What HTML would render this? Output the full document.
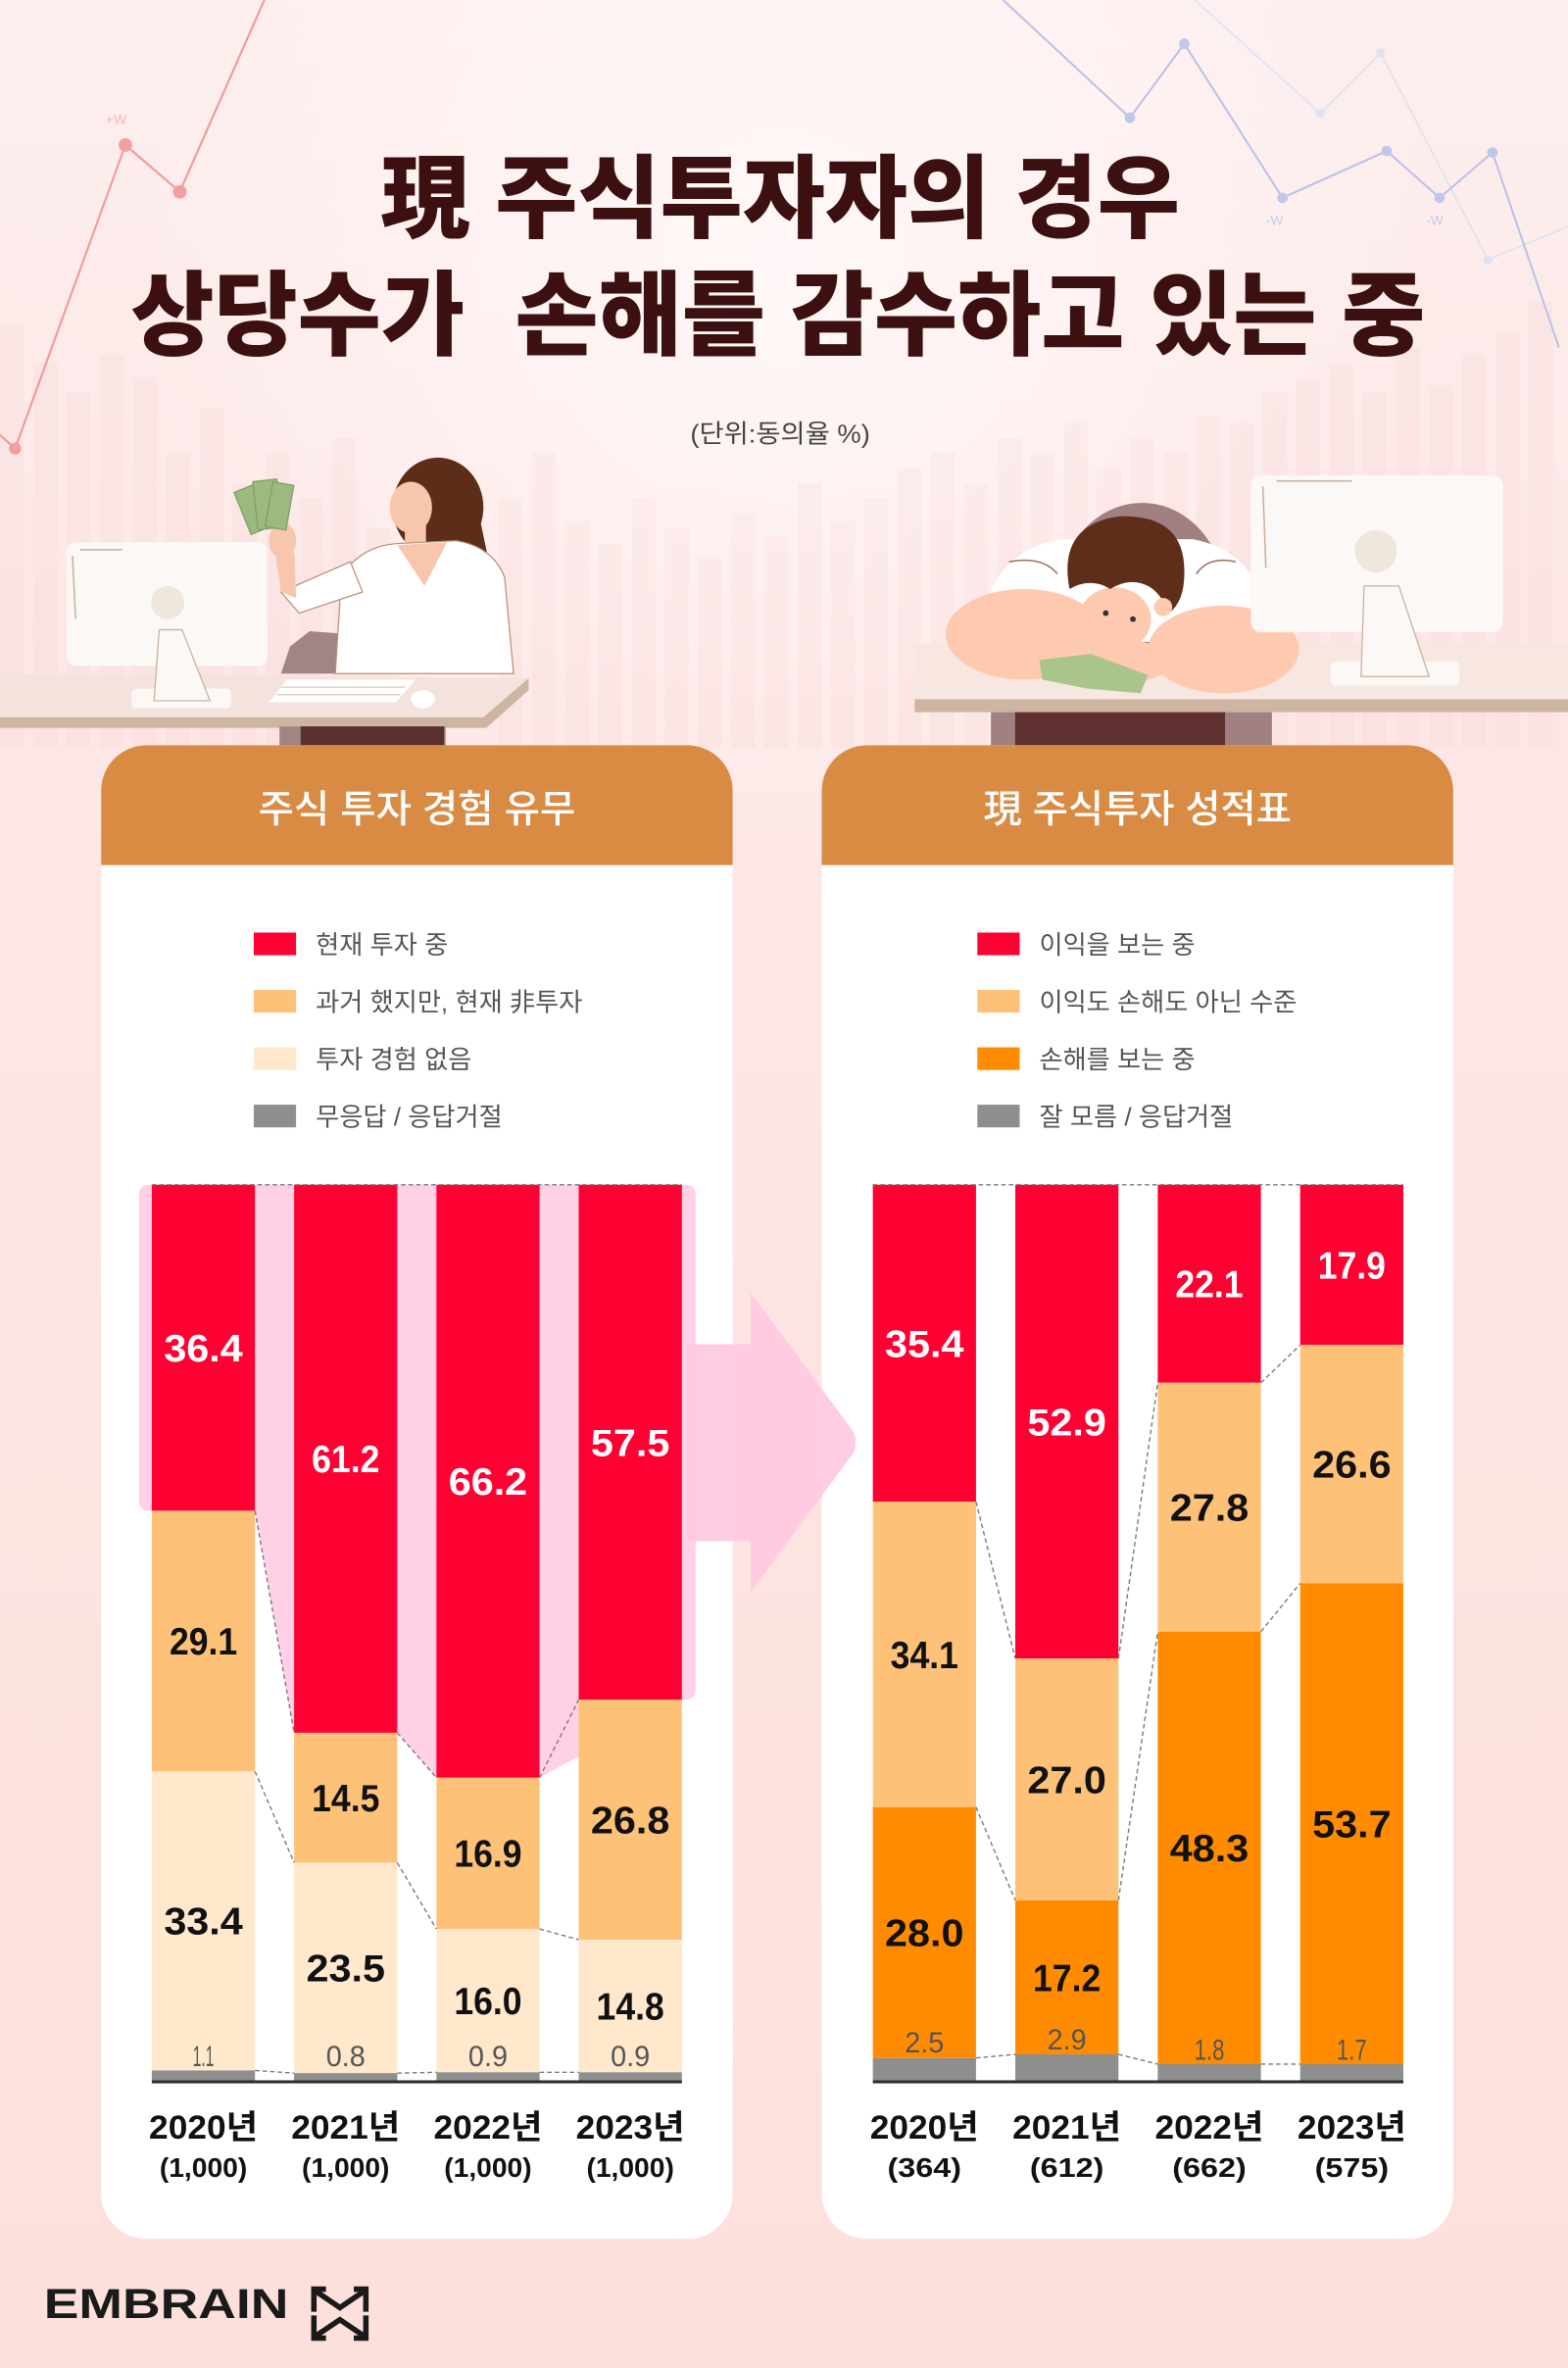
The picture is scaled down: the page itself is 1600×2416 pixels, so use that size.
<!DOCTYPE html>
<html><head><meta charset="utf-8"><style>
html,body{margin:0;padding:0;background:#fde6e4;}
svg{display:block;}
.k{font-family:'Liberation Sans','Noto Sans CJK KR',sans-serif;}
.v{font-family:'Liberation Sans','Noto Sans CJK KR',sans-serif;font-weight:700;font-size:25px;}
.g{font-family:'Liberation Sans',sans-serif;font-weight:400;font-size:19px;fill:#555;}
</style></head><body>
<svg xmlns="http://www.w3.org/2000/svg" width="1600" height="2416" viewBox="0 0 1038 1568" preserveAspectRatio="none">
<defs>
 <linearGradient id="bg" x1="0" y1="0" x2="0" y2="1">
  <stop offset="0" stop-color="#fdeeee"/>
  <stop offset="0.3" stop-color="#fde7e6"/>
  <stop offset="1" stop-color="#fde0dc"/>
 </linearGradient>
 <radialGradient id="glow" cx="519" cy="170" r="430" gradientUnits="userSpaceOnUse">
  <stop offset="0" stop-color="#fff8f8" stop-opacity="0.95"/>
  <stop offset="1" stop-color="#fff8f8" stop-opacity="0"/>
 </radialGradient>
</defs>
<rect width="1038" height="1568" fill="url(#bg)"/>
<rect width="1038" height="620" fill="url(#glow)"/>

<!-- faint background bars -->
<g fill="#f4c4c4" opacity="0.13">
<rect x="0" y="215" width="16" height="280"/><rect x="22" y="240" width="16" height="255"/><rect x="44" y="260" width="16" height="235"/><rect x="66" y="235" width="16" height="260"/><rect x="88" y="250" width="16" height="245"/><rect x="110" y="300" width="16" height="195"/><rect x="132" y="270" width="16" height="225"/><rect x="154" y="320" width="16" height="175"/><rect x="176" y="300" width="16" height="195"/><rect x="198" y="330" width="16" height="165"/><rect x="220" y="290" width="16" height="205"/><rect x="242" y="350" width="16" height="145"/><rect x="330" y="330" width="16" height="165"/><rect x="352" y="300" width="16" height="195"/><rect x="374" y="345" width="16" height="150"/><rect x="396" y="360" width="16" height="135"/><rect x="418" y="330" width="16" height="165"/><rect x="440" y="350" width="16" height="145"/><rect x="462" y="370" width="16" height="125"/><rect x="484" y="340" width="16" height="155"/><rect x="506" y="355" width="16" height="140"/><rect x="528" y="320" width="16" height="175"/><rect x="550" y="345" width="16" height="150"/><rect x="572" y="330" width="16" height="165"/><rect x="594" y="310" width="16" height="185"/><rect x="616" y="300" width="16" height="195"/><rect x="638" y="320" width="16" height="175"/><rect x="660" y="290" width="16" height="205"/><rect x="682" y="300" width="16" height="195"/><rect x="704" y="280" width="16" height="215"/><rect x="726" y="310" width="16" height="185"/><rect x="748" y="290" width="16" height="205"/><rect x="770" y="300" width="16" height="195"/><rect x="792" y="275" width="16" height="220"/><rect x="814" y="280" width="16" height="215"/><rect x="836" y="260" width="16" height="235"/><rect x="858" y="250" width="16" height="245"/><rect x="880" y="240" width="16" height="255"/><rect x="902" y="260" width="16" height="235"/><rect x="924" y="230" width="16" height="265"/><rect x="946" y="255" width="16" height="240"/><rect x="968" y="235" width="16" height="260"/><rect x="990" y="220" width="16" height="275"/><rect x="1012" y="200" width="16" height="295"/>
</g>

<!-- decorative lines -->
<polyline points="0,288 10,297 83,96 119,127 175,0" fill="none" stroke="#f29a9a" stroke-width="1.4"/>
<circle cx="10" cy="297" r="4" fill="#f0a0a0"/><circle cx="83" cy="96" r="4.5" fill="#f0a0a0"/><circle cx="119" cy="127" r="4.5" fill="#f0a0a0"/>
<text x="70" y="82" class="k" font-size="9" fill="#f5b5b5">+W</text>
<polyline points="791,0 874,75 914,35 985,172 1038,150" fill="none" stroke="#e0e2f2" stroke-width="1.2"/>
<circle cx="874" cy="75" r="3" fill="#e0e2f2"/><circle cx="914" cy="35" r="3" fill="#e0e2f2"/><circle cx="985" cy="172" r="3" fill="#e0e2f2"/>
<polyline points="664,0 748,78 784,29 849,131 918,100 953,131 988,101 1032,230" fill="none" stroke="#b8c2e6" stroke-width="1.3"/>
<circle cx="748" cy="78" r="3.5" fill="#c0c8ea"/><circle cx="784" cy="29" r="3.5" fill="#c0c8ea"/><circle cx="849" cy="131" r="3.5" fill="#c0c8ea"/><circle cx="918" cy="100" r="3.5" fill="#c0c8ea"/><circle cx="953" cy="131" r="3.5" fill="#c0c8ea"/><circle cx="988" cy="101" r="3.5" fill="#c0c8ea"/>
<text x="838" y="149" class="k" font-size="9" fill="#c8cce8">-W</text>
<text x="944" y="149" class="k" font-size="9" fill="#c8cce8">-W</text>

<!-- Title -->
<text x="516.5" y="152.5" text-anchor="middle" class="k" font-size="60" font-weight="900" fill="#3c1010" textLength="529" lengthAdjust="spacingAndGlyphs">現 주식투자자의 경우</text>
<text x="515" y="230" text-anchor="middle" class="k" font-size="61" font-weight="900" fill="#3c1010" textLength="857" lengthAdjust="spacingAndGlyphs" style="white-space:pre">상당수가  손해를 감수하고 있는 중</text>
<text x="516.5" y="293" text-anchor="middle" class="k" font-size="17" fill="#444" textLength="119" lengthAdjust="spacingAndGlyphs">(단위:동의율 %)</text>

<!-- Left illustration -->
<polygon points="186,446 192,428 205,418 232,420 232,446" fill="#a38484"/>
<ellipse cx="290" cy="336" rx="30" ry="33" fill="#5c2e1a"/>
<polygon points="292,345 318,345 324,374 298,374" fill="#5c2e1a"/>
<circle cx="309" cy="326" r="8" fill="#5c2e1a"/>
<ellipse cx="272" cy="336" rx="14" ry="17" fill="#f8c6ad"/>
<rect x="268" y="346" width="14" height="16" fill="#f8c6ad"/>
<path d="M226,382 Q238,362 262,360 L302,358 Q326,362 334,382 L340,446 L222,446 Z" fill="#ffffff" stroke="#b89078" stroke-width="0.8"/>
<polygon points="263,361 296,359 281,388" fill="#f8c6ad"/>
<polygon points="232,372 240,392 198,406 186,392" fill="#ffffff" stroke="#b89078" stroke-width="0.8"/>
<polygon points="186,392 196,396 195,366 182,364" fill="#f8c6ad"/>
<ellipse cx="187" cy="358" rx="9" ry="12" fill="#f8c6ad"/>
<g stroke="#7e9c66" stroke-width="0.8" fill="#9cba80">
 <rect x="160" y="322" width="16" height="30" transform="rotate(-22 168 337)"/>
 <rect x="169" y="318" width="16" height="32" transform="rotate(-6 177 334)"/>
 <rect x="178" y="320" width="14" height="30" transform="rotate(10 185 335)"/>
</g>
<polygon points="0,446.5 350,449 320,475 0,475" fill="#f3e3dc"/>
<rect x="44" y="359" width="133" height="82" rx="6" fill="#fbf8f5"/>
<path d="M53,364 L81,364 M48,368 L50,410" stroke="#c9b09a" stroke-width="1" fill="none"/>
<circle cx="111" cy="399" r="11" fill="#efe6de"/>
<rect x="87" y="456" width="66" height="13" rx="3" fill="#fbf8f6"/>
<polygon points="105.4,417 120.5,417 139,464 102,464" fill="#fbf8f5" stroke="#c9b09a" stroke-width="0.8"/>
<polygon points="190,450 275,450 262,465 178,465" fill="#ffffff"/>
<g stroke="#c9b09a" stroke-width="0.6"><line x1="186" y1="455" x2="268" y2="455"/><line x1="183" y1="460" x2="265" y2="460"/></g>
<ellipse cx="280" cy="463" rx="8" ry="6" fill="#ffffff"/>
<polygon points="0,475 320,475 350,449 350,457 322,482 0,482" fill="#cdb5a2"/>
<rect x="185" y="481" width="110" height="13" fill="#a38484"/>
<rect x="199" y="481" width="95" height="13" fill="#5c3030"/>

<!-- Right illustration -->
<ellipse cx="756" cy="395" rx="55" ry="62" fill="#a08080"/>
<path d="M650,410 Q660,362 705,357 L790,357 Q830,365 838,405 L838,425 L650,425 Z" fill="#ffffff"/>
<path d="M668,372 Q690,368 700,380 M818,372 Q800,368 792,380" stroke="#9a7060" stroke-width="1" fill="none"/>
<rect x="605.5" y="426" width="432.5" height="37" fill="#f8e6e0"/>
<ellipse cx="678" cy="420" rx="52" ry="30" fill="#fdcab0"/>
<ellipse cx="810" cy="430" rx="50" ry="29" fill="#fdcab0"/>
<ellipse cx="745" cy="438" rx="30" ry="14" fill="#fdcab0"/>
<ellipse cx="738" cy="410" rx="24" ry="21" fill="#fdcab0"/>
<path d="M708,390 Q700,348 740,342 Q785,340 784,380 Q784,398 774,406 Q768,392 760,388 Q748,382 735,390 Q722,382 708,390 Z" fill="#5e2e1a"/>
<circle cx="770" cy="402" r="6" fill="#fdcab0"/>
<circle cx="732" cy="406" r="1.9" fill="#333"/><circle cx="750" cy="410" r="1.9" fill="#333"/>
<polygon points="688,437 722,433 760,447 755,459 720,456 690,450" fill="#a9c58c"/>
<rect x="828" y="314.7" width="167" height="104" rx="7" fill="#fbf8f6"/>
<path d="M845,318.5 L895,318.5 M836,322 L838,376" stroke="#c9b09a" stroke-width="1" fill="none"/>
<circle cx="910.8" cy="365" r="14" fill="#efe6de"/>
<rect x="881" y="438" width="85" height="16" rx="3" fill="#fbf8f6"/>
<polygon points="903,388 926,388 946,448 901,448" fill="#fbf8f6" stroke="#c9b09a" stroke-width="0.8"/>
<rect x="605.5" y="463" width="432.5" height="8.6" fill="#cdb5a2"/>
<rect x="656" y="471.6" width="186" height="22" fill="#a08080"/>
<rect x="672" y="471.6" width="139" height="22" fill="#5e3030"/>

<!-- Panels -->
<rect x="67" y="493.5" width="418" height="989" rx="30" fill="#ffffff"/>
<path d="M67,572.8 L67,523.5 A30,30 0 0 1 97,493.5 L455,493.5 A30,30 0 0 1 485,523.5 L485,572.8 Z" fill="#d98b43"/>
<rect x="544" y="493.5" width="418" height="989" rx="30" fill="#ffffff"/>
<path d="M544,572.8 L544,523.5 A30,30 0 0 1 574,493.5 L932,493.5 A30,30 0 0 1 962,523.5 L962,572.8 Z" fill="#d98b43"/>
<text x="276" y="544.5" text-anchor="middle" class="k" font-size="25.5" font-weight="500" fill="#ffffff" textLength="210" lengthAdjust="spacingAndGlyphs">주식 투자 경험 유무</text>
<text x="753" y="544.5" text-anchor="middle" class="k" font-size="25.5" font-weight="500" fill="#ffffff" textLength="204" lengthAdjust="spacingAndGlyphs">現 주식투자 성적표</text>

<!-- Legends -->
<rect x="168" y="617.5" width="28" height="15" fill="#ff0033"/>
<rect x="168" y="655.5" width="28" height="15" fill="#fdc278"/>
<rect x="168" y="693.5" width="28" height="15" fill="#ffe8cc"/>
<rect x="168" y="731.5" width="28" height="15" fill="#8e8e8e"/>
<g class="k" font-size="17" fill="#555">
<text x="209" y="631.5">현재 투자 중</text>
<text x="209" y="669.5">과거 했지만, 현재 非투자</text>
<text x="209" y="707.5">투자 경험 없음</text>
<text x="209" y="745.5">무응답 / 응답거절</text>
</g>
<rect x="647" y="617.5" width="28" height="15" fill="#ff0033"/>
<rect x="647" y="655.5" width="28" height="15" fill="#fdc278"/>
<rect x="647" y="693.5" width="28" height="15" fill="#ff8c00"/>
<rect x="647" y="731.5" width="28" height="15" fill="#8e8e8e"/>
<g class="k" font-size="17" fill="#555">
<text x="688" y="631.5">이익을 보는 중</text>
<text x="688" y="669.5">이익도 손해도 아닌 수준</text>
<text x="688" y="707.5">손해를 보는 중</text>
<text x="688" y="745.5">잘 모름 / 응답거절</text>
</g>

<!-- Left chart highlight -->
<path d="M92,791.5 Q92,784.5 99,784.5 L453.5,784.5 Q460.5,784.5 460.5,791.5 L460.5,1118.5 Q460.5,1125.5 453.5,1125.5 L451.4,1125.5 L357.2,1177.1 L288.9,1177.1 L263,1147.4 L194.7,1147.4 L168.8,1000.35 L99,1000.35 Q92,1000.35 92,993.35 Z" fill="#ffd0e6"/>

<!-- Left bars -->
<g>
<rect x="100.5" y="784.5" width="68.3" height="215.85" fill="#ff0033"/>
<rect x="100.5" y="1000.35" width="68.3" height="172.55" fill="#fdc278"/>
<rect x="100.5" y="1172.9" width="68.3" height="198.08" fill="#ffe8cc"/>
<rect x="100.5" y="1370.98" width="68.3" height="6.52" fill="#8e8e8e"/>

<rect x="194.7" y="784.5" width="68.3" height="362.9" fill="#ff0033"/>
<rect x="194.7" y="1147.4" width="68.3" height="86" fill="#fdc278"/>
<rect x="194.7" y="1233.4" width="68.3" height="139.36" fill="#ffe8cc"/>
<rect x="194.7" y="1372.76" width="68.3" height="4.74" fill="#8e8e8e"/>

<rect x="288.9" y="784.5" width="68.3" height="392.6" fill="#ff0033"/>
<rect x="288.9" y="1177.1" width="68.3" height="100.2" fill="#fdc278"/>
<rect x="288.9" y="1277.3" width="68.3" height="94.9" fill="#ffe8cc"/>
<rect x="288.9" y="1372.2" width="68.3" height="5.3" fill="#8e8e8e"/>

<rect x="383.1" y="784.5" width="68.3" height="341" fill="#ff0033"/>
<rect x="383.1" y="1125.5" width="68.3" height="158.9" fill="#fdc278"/>
<rect x="383.1" y="1284.4" width="68.3" height="87.8" fill="#ffe8cc"/>
<rect x="383.1" y="1372.2" width="68.3" height="5.3" fill="#8e8e8e"/>
</g>
<rect x="100.5" y="1377.5" width="350.9" height="2" fill="#2e2e2e"/>
<g stroke="#7a7a7a" stroke-width="0.9" stroke-dasharray="3 2" fill="none">
<line x1="100.5" y1="784.5" x2="451.4" y2="784.5"/>
<line x1="168.8" y1="1000.35" x2="194.7" y2="1147.4"/>
<line x1="168.8" y1="1172.9" x2="194.7" y2="1233.4"/>
<line x1="168.8" y1="1370.98" x2="194.7" y2="1372.76"/>
<line x1="263" y1="1147.4" x2="288.9" y2="1177.1"/>
<line x1="263" y1="1233.4" x2="288.9" y2="1277.3"/>
<line x1="263" y1="1372.76" x2="288.9" y2="1372.2"/>
<line x1="357.2" y1="1177.1" x2="383.1" y2="1125.5"/>
<line x1="357.2" y1="1277.3" x2="383.1" y2="1284.4"/>
<line x1="357.2" y1="1372.2" x2="383.1" y2="1372.2"/>
</g>
<g class="v" text-anchor="middle">
<text x="134.65" y="901.4" fill="#fff" textLength="52.2" lengthAdjust="spacingAndGlyphs">36.4</text>
<text x="134.65" y="1095.6" fill="#111" textLength="44.9" lengthAdjust="spacingAndGlyphs">29.1</text>
<text x="134.65" y="1280.9" fill="#111" textLength="52.2" lengthAdjust="spacingAndGlyphs">33.4</text>
<text x="228.85" y="974.9" fill="#fff" textLength="44.9" lengthAdjust="spacingAndGlyphs">61.2</text>
<text x="228.85" y="1199.4" fill="#111" textLength="44.9" lengthAdjust="spacingAndGlyphs">14.5</text>
<text x="228.85" y="1312.1" fill="#111" textLength="52.2" lengthAdjust="spacingAndGlyphs">23.5</text>
<text x="323.05" y="989.8" fill="#fff" textLength="52.2" lengthAdjust="spacingAndGlyphs">66.2</text>
<text x="323.05" y="1236.2" fill="#111" textLength="44.9" lengthAdjust="spacingAndGlyphs">16.9</text>
<text x="323.05" y="1333.8" fill="#111" textLength="44.9" lengthAdjust="spacingAndGlyphs">16.0</text>
<text x="417.25" y="964" fill="#fff" textLength="52.2" lengthAdjust="spacingAndGlyphs">57.5</text>
<text x="417.25" y="1214" fill="#111" textLength="52.2" lengthAdjust="spacingAndGlyphs">26.8</text>
<text x="417.25" y="1337.3" fill="#111" textLength="44.9" lengthAdjust="spacingAndGlyphs">14.8</text>
</g>
<g class="g" text-anchor="middle">
<text x="134.65" y="1368" textLength="14" lengthAdjust="spacingAndGlyphs">1.1</text>
<text x="228.85" y="1368" textLength="26" lengthAdjust="spacingAndGlyphs">0.8</text>
<text x="323.05" y="1368" textLength="26" lengthAdjust="spacingAndGlyphs">0.9</text>
<text x="417.25" y="1368" textLength="26" lengthAdjust="spacingAndGlyphs">0.9</text>
</g>
<g class="k" font-weight="700" fill="#111" text-anchor="middle">
<text x="134.65" y="1416" font-size="22" textLength="72" lengthAdjust="spacingAndGlyphs">2020년</text>
<text x="228.85" y="1416" font-size="22" textLength="72" lengthAdjust="spacingAndGlyphs">2021년</text>
<text x="323.05" y="1416" font-size="22" textLength="72" lengthAdjust="spacingAndGlyphs">2022년</text>
<text x="417.25" y="1416" font-size="22" textLength="72" lengthAdjust="spacingAndGlyphs">2023년</text>
<text x="134.65" y="1441.5" font-size="18" textLength="58" lengthAdjust="spacingAndGlyphs">(1,000)</text>
<text x="228.85" y="1441.5" font-size="18" textLength="58" lengthAdjust="spacingAndGlyphs">(1,000)</text>
<text x="323.05" y="1441.5" font-size="18" textLength="58" lengthAdjust="spacingAndGlyphs">(1,000)</text>
<text x="417.25" y="1441.5" font-size="18" textLength="58" lengthAdjust="spacingAndGlyphs">(1,000)</text>
</g>

<!-- Right bars -->
<g>
<rect x="577.8" y="784.5" width="68.3" height="209.9" fill="#ff0033"/>
<rect x="577.8" y="994.4" width="68.3" height="202.2" fill="#fdc278"/>
<rect x="577.8" y="1196.6" width="68.3" height="166.1" fill="#ff8c00"/>
<rect x="577.8" y="1362.7" width="68.3" height="14.8" fill="#8e8e8e"/>

<rect x="672.1" y="784.5" width="68.3" height="313.7" fill="#ff0033"/>
<rect x="672.1" y="1098.2" width="68.3" height="160.1" fill="#fdc278"/>
<rect x="672.1" y="1258.3" width="68.3" height="102" fill="#ff8c00"/>
<rect x="672.1" y="1360.3" width="68.3" height="17.2" fill="#8e8e8e"/>

<rect x="766.4" y="784.5" width="68.3" height="131.1" fill="#ff0033"/>
<rect x="766.4" y="915.6" width="68.3" height="164.8" fill="#fdc278"/>
<rect x="766.4" y="1080.4" width="68.3" height="286.4" fill="#ff8c00"/>
<rect x="766.4" y="1366.8" width="68.3" height="10.7" fill="#8e8e8e"/>

<rect x="860.7" y="784.5" width="68.3" height="106.1" fill="#ff0033"/>
<rect x="860.7" y="890.6" width="68.3" height="157.8" fill="#fdc278"/>
<rect x="860.7" y="1048.4" width="68.3" height="318.4" fill="#ff8c00"/>
<rect x="860.7" y="1366.8" width="68.3" height="10.7" fill="#8e8e8e"/>
</g>
<rect x="577.8" y="1377.5" width="351.2" height="2" fill="#2e2e2e"/>
<g stroke="#7a7a7a" stroke-width="0.9" stroke-dasharray="3 2" fill="none">
<line x1="577.8" y1="784.5" x2="929" y2="784.5"/>
<line x1="646.1" y1="994.4" x2="672.1" y2="1098.2"/>
<line x1="646.1" y1="1196.6" x2="672.1" y2="1258.3"/>
<line x1="646.1" y1="1362.7" x2="672.1" y2="1360.3"/>
<line x1="740.4" y1="1098.2" x2="766.4" y2="915.6"/>
<line x1="740.4" y1="1258.3" x2="766.4" y2="1080.4"/>
<line x1="740.4" y1="1360.3" x2="766.4" y2="1366.8"/>
<line x1="834.7" y1="915.6" x2="860.7" y2="890.6"/>
<line x1="834.7" y1="1080.4" x2="860.7" y2="1048.4"/>
<line x1="834.7" y1="1366.8" x2="860.7" y2="1366.8"/>
</g>
<g class="v" text-anchor="middle">
<text x="611.95" y="898.5" fill="#fff" textLength="52.2" lengthAdjust="spacingAndGlyphs">35.4</text>
<text x="611.95" y="1104.5" fill="#111" textLength="44.9" lengthAdjust="spacingAndGlyphs">34.1</text>
<text x="611.95" y="1288.7" fill="#111" textLength="52.2" lengthAdjust="spacingAndGlyphs">28.0</text>
<text x="706.25" y="950.4" fill="#fff" textLength="52.2" lengthAdjust="spacingAndGlyphs">52.9</text>
<text x="706.25" y="1187.3" fill="#111" textLength="52.2" lengthAdjust="spacingAndGlyphs">27.0</text>
<text x="706.25" y="1318.3" fill="#111" textLength="44.9" lengthAdjust="spacingAndGlyphs">17.2</text>
<text x="800.55" y="859" fill="#fff" textLength="44.9" lengthAdjust="spacingAndGlyphs">22.1</text>
<text x="800.55" y="1007" fill="#111" textLength="52.2" lengthAdjust="spacingAndGlyphs">27.8</text>
<text x="800.55" y="1232.6" fill="#111" textLength="52.2" lengthAdjust="spacingAndGlyphs">48.3</text>
<text x="894.85" y="846.6" fill="#fff" textLength="44.9" lengthAdjust="spacingAndGlyphs">17.9</text>
<text x="894.85" y="978.5" fill="#111" textLength="52.2" lengthAdjust="spacingAndGlyphs">26.6</text>
<text x="894.85" y="1216.6" fill="#111" textLength="52.2" lengthAdjust="spacingAndGlyphs">53.7</text>
</g>
<g class="g" text-anchor="middle">
<text x="611.95" y="1359" textLength="26" lengthAdjust="spacingAndGlyphs">2.5</text>
<text x="706.25" y="1357" textLength="26" lengthAdjust="spacingAndGlyphs">2.9</text>
<text x="800.55" y="1364" textLength="20" lengthAdjust="spacingAndGlyphs">1.8</text>
<text x="894.85" y="1364" textLength="20" lengthAdjust="spacingAndGlyphs">1.7</text>
</g>
<g class="k" font-weight="700" fill="#111" text-anchor="middle">
<text x="611.95" y="1416" font-size="22" textLength="72" lengthAdjust="spacingAndGlyphs">2020년</text>
<text x="706.25" y="1416" font-size="22" textLength="72" lengthAdjust="spacingAndGlyphs">2021년</text>
<text x="800.55" y="1416" font-size="22" textLength="72" lengthAdjust="spacingAndGlyphs">2022년</text>
<text x="894.85" y="1416" font-size="22" textLength="72" lengthAdjust="spacingAndGlyphs">2023년</text>
<text x="611.95" y="1441.5" font-size="18" textLength="49" lengthAdjust="spacingAndGlyphs">(364)</text>
<text x="706.25" y="1441.5" font-size="18" textLength="49" lengthAdjust="spacingAndGlyphs">(612)</text>
<text x="800.55" y="1441.5" font-size="18" textLength="49" lengthAdjust="spacingAndGlyphs">(662)</text>
<text x="894.85" y="1441.5" font-size="18" textLength="49" lengthAdjust="spacingAndGlyphs">(575)</text>
</g>

<!-- Arrow -->
<path d="M455,890 L497,890 L497,856 L565,948 Q568,955 565,962 L497,1054 L497,1020.5 L455,1020.5 Z" fill="#ffc9e1" opacity="0.92"/>

<!-- Logo -->
<text x="29" y="1535" class="k" font-size="27.5" font-weight="700" fill="#1a1a1a" textLength="162" lengthAdjust="spacingAndGlyphs">EMBRAIN</text>
<g stroke="#1a1a1a" stroke-width="3.6" fill="none" stroke-linecap="square" stroke-linejoin="miter">
<path d="M207.8,1529 L207.8,1515.8 L214,1515.8"/>
<path d="M242.2,1529 L242.2,1515.8 L236,1515.8"/>
<path d="M211,1518.5 L225,1528 L239,1518.5"/>
<path d="M207.8,1535 L207.8,1548.2 L214,1548.2"/>
<path d="M242.2,1535 L242.2,1548.2 L236,1548.2"/>
<path d="M211,1545.5 L225,1536 L239,1545.5"/>
</g>
</svg>
</body></html>
